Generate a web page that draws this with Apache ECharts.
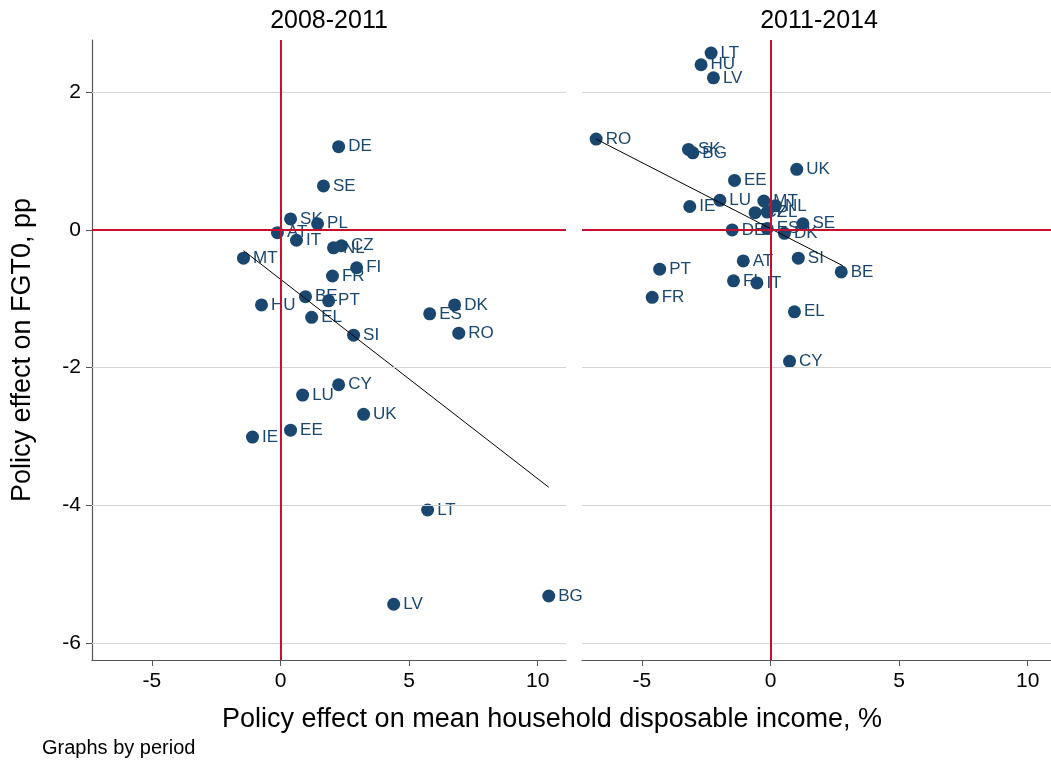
<!DOCTYPE html>
<html>
<head>
<meta charset="utf-8">
<script src="https://cdn.jsdelivr.net/npm/echarts@6/dist/echarts.min.js"></script>
<style>
  html, body { margin: 0; padding: 0; background: #fff; }
  #chart { width: 1051px; height: 761px; }
</style>
</head>
<body>
<div id="chart"></div>
<script>
// panel titles
const periods = ["2008-2011", "2011-2014"];

// 2008-2011: [country, income effect %, FGT0 effect pp]
const period1 = [
  ["DE", 2.26, 1.21], ["SE", 1.67, 0.64], ["SK", 0.39, 0.16], ["PL", 1.44, 0.09],
  ["AT", -0.12, -0.04], ["IT", 0.62, -0.15], ["NL", 2.06, -0.26], ["CZ", 2.37, -0.23],
  ["MT", -1.44, -0.41], ["FI", 2.96, -0.55], ["FR", 2.02, -0.67], ["BE", 0.97, -0.97],
  ["PT", 1.87, -1.03], ["HU", -0.74, -1.09], ["EL", 1.21, -1.27], ["SI", 2.84, -1.53],
  ["ES", 5.80, -1.22], ["DK", 6.77, -1.09], ["RO", 6.93, -1.50], ["CY", 2.26, -2.25],
  ["LU", 0.86, -2.40], ["UK", 3.23, -2.68], ["EE", 0.39, -2.91], ["IE", -1.09, -3.01],
  ["LT", 5.72, -4.07], ["LV", 4.40, -5.44], ["BG", 10.43, -5.32]
];

// 2011-2014
const period2 = [
  ["LT", -2.31, 2.57], ["HU", -2.70, 2.40], ["LV", -2.22, 2.21], ["RO", -6.78, 1.32],
  ["SK", -3.19, 1.17], ["BG", -3.02, 1.12], ["UK", 1.02, 0.88], ["EE", -1.40, 0.72],
  ["LU", -1.97, 0.43], ["IE", -3.14, 0.34], ["MT", -0.26, 0.42], ["NL", 0.19, 0.35],
  ["CZ", -0.60, 0.25], ["PL", -0.13, 0.26], ["SE", 1.26, 0.09], ["DE", -1.49, 0.00],
  ["ES", -0.13, 0.02], ["DK", 0.54, -0.05], ["SI", 1.08, -0.41], ["BE", 2.75, -0.61],
  ["AT", -1.06, -0.45], ["PT", -4.31, -0.57], ["FI", -1.44, -0.74], ["IT", -0.53, -0.77],
  ["FR", -4.60, -0.98], ["EL", 0.93, -1.19], ["CY", 0.74, -1.91]
];

// fitted lines, end points
const fit1 = [[-1.44, -0.30], [10.43, -3.74]];
const fit2 = [[-6.78, 1.32], [2.81, -0.52]];

const xTicks = [-5, 0, 5, 10];
const yTicks = [-6, -4, -2, 0, 2];
const yGrid = [-6, -4, -2, 2];

const navy = "#1a476f";
const red = "#c8102e";
const font = "'Liberation Sans', Arial, sans-serif";

const chart = echarts.init(document.getElementById("chart"), null, { renderer: "canvas" });

function xAxis(i) {
  return {
    gridIndex: i, type: "value", min: -7.33, max: 11.1,
    axisLine: { onZero: false, lineStyle: { color: "#555", width: 1.2 } },
    axisTick: { length: 6, customValues: xTicks, lineStyle: { color: "#555" } },
    axisLabel: {
      color: "#000", fontSize: 21, fontFamily: font, margin: 11,
      customValues: xTicks
    },
    splitLine: { show: false }
  };
}

function yAxis(i) {
  const first = i === 0;
  return {
    gridIndex: i, type: "value", min: -6.25, max: 2.76,
    axisLine: { show: first, onZero: false, lineStyle: { color: "#555", width: 1.2 } },
    axisTick: { show: first, length: 6, customValues: yTicks, lineStyle: { color: "#555" } },
    axisLabel: {
      show: first, color: "#000", fontSize: 21, fontFamily: font, margin: 11,
      customValues: yTicks
    },
    splitLine: { show: false },
    name: first ? "Policy effect on FGT0, pp" : "",
    nameLocation: "middle", nameGap: 56,
    nameTextStyle: { color: "#000", fontSize: 27, fontFamily: font }
  };
}

function scatter(i, rows) {
  return {
    type: "scatter", xAxisIndex: i, yAxisIndex: i,
    symbol: "circle", symbolSize: 13,
    itemStyle: { color: navy, opacity: 1 },
    data: rows.map(r => ({ name: r[0], value: [r[1], r[2]] })),
    label: {
      show: true, position: "right", distance: 3, offset: [0, 2],
      formatter: p => p.name, color: navy, fontSize: 17, fontFamily: font
    },
    labelLayout: { hideOverlap: false },
    z: 3
  };
}

// grey gridlines and red zero lines
function refLines(i) {
  return {
    type: "scatter", xAxisIndex: i, yAxisIndex: i, data: [], silent: true,
    markLine: {
      silent: true, symbol: "none", label: { show: false }, animation: false,
      data: yGrid.map(v => ({ yAxis: v, lineStyle: { color: "#d4d4d4", width: 1.2, type: "solid" } }))
        .concat([
          { xAxis: 0, lineStyle: { color: red, width: 2, type: "solid" } },
          { yAxis: 0, lineStyle: { color: red, width: 2, type: "solid" } }
        ])
    },
    z: 1
  };
}

function fit(i, pts) {
  return {
    type: "line", xAxisIndex: i, yAxisIndex: i, data: pts,
    symbol: "none", silent: true,
    lineStyle: { color: "#000", width: 1 },
    z: 4
  };
}

chart.setOption({
  animation: false,
  backgroundColor: "#fff",
  grid: [
    { left: 92, top: 40, width: 474, height: 620, outerBoundsMode: "none", containLabel: false },
    { left: 582, top: 40, width: 474, height: 620, outerBoundsMode: "none", containLabel: false }
  ],
  xAxis: [xAxis(0), xAxis(1)],
  yAxis: [yAxis(0), yAxis(1)],
  series: [
    refLines(0), refLines(1),
    scatter(0, period1), fit(0, fit1),
    scatter(1, period2), fit(1, fit2)
  ],
  graphic: [
    { type: "text", x: 329, y: 21, style: { text: periods[0], font: "25px " + font, fill: "#000", align: "center", verticalAlign: "middle" } },
    { type: "text", x: 819, y: 21, style: { text: periods[1], font: "25px " + font, fill: "#000", align: "center", verticalAlign: "middle" } },
    { type: "text", x: 552, y: 720, style: { text: "Policy effect on mean household disposable income, %", font: "27px " + font, fill: "#000", align: "center", verticalAlign: "middle" } },
    { type: "text", x: 42, y: 748, style: { text: "Graphs by period", font: "20px " + font, fill: "#000", align: "left", verticalAlign: "middle" } }
  ]
});
</script>
</body>
</html>
